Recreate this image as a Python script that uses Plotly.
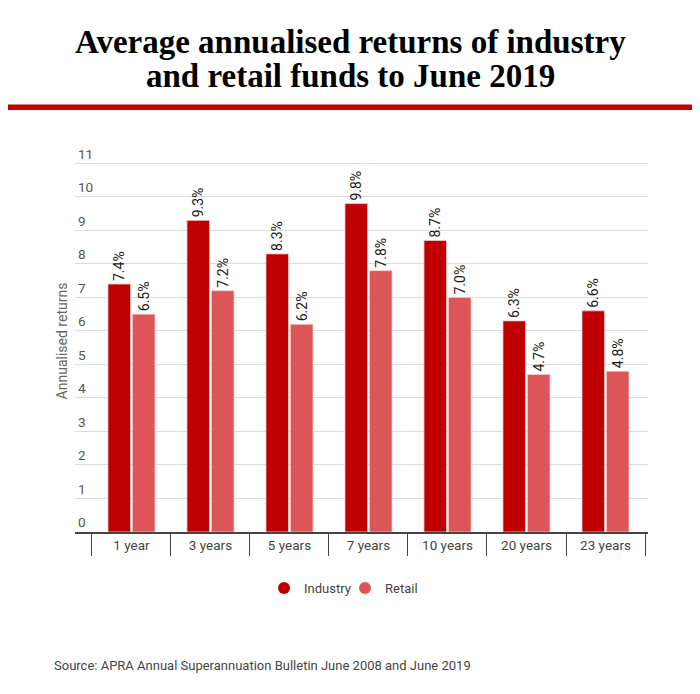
import plotly.graph_objects as go

categories = ["1 year", "3 years", "5 years", "7 years", "10 years", "20 years", "23 years"]
industry = [7.4, 9.3, 8.3, 9.8, 8.7, 6.3, 6.6]
retail = [6.5, 7.2, 6.2, 7.8, 7.0, 4.7, 4.8]
y_ticks = list(range(0, 12))

IND_COLOR = "#c00000"
RET_COLOR = "#dc5558"
FONT = "Roboto"

xr = [-0.715, 6.538]

# page body has an 8px margin: the figure is drawn 8px in from the window edge
OFF = 8
W, H = 700 - OFF, 694 - OFF
# plot area in window pixels
L, R, T, B = 75, 648, 150, 532
PW, PH = R - L, B - T


def px(x):
    return (x - L) / PW


def py(y):
    return (B - y) / PH


fig = go.Figure()
for nm, vals, col in [("Industry", industry, IND_COLOR), ("Retail", retail, RET_COLOR)]:
    fig.add_trace(go.Bar(
        x=categories, y=vals, name=nm,
        marker=dict(color=col, line=dict(color="#f4c9c9", width=0.8)),
        text=[f"{v:.1f}%" for v in vals], textposition="outside", textangle=-90,
        constraintext="none",
        textfont=dict(family=FONT, size=14, color="#1a1a1a"), cliponaxis=False, showlegend=False,
    ))
# legend entries (circles)
for nm, col in [("Industry", IND_COLOR), ("Retail", RET_COLOR)]:
    fig.add_trace(go.Scatter(x=[None], y=[None], mode="markers", name=nm,
                             marker=dict(color=col, size=16, symbol="circle"), xaxis="x2"))

fig.update_layout(
    width=W, height=H,
    paper_bgcolor="white", plot_bgcolor="white",
    margin=dict(l=L - OFF, r=700 - R, t=T - OFF, b=694 - B),
    barmode="group", bargap=0.38, bargroupgap=0.08,
    font=dict(family=FONT, color="#444"),
    xaxis=dict(type="category", categoryorder="array", categoryarray=categories, range=xr,
               showgrid=False, ticks="", showline=True, linecolor="#444", linewidth=2,
               tickfont=dict(family=FONT, size=13.5, color="#444"), fixedrange=True),
    xaxis2=dict(overlaying="x", side="bottom", range=xr, tickmode="array",
                tickvals=[i - 0.5 for i in range(len(categories) + 1)], ticks="outside",
                ticklen=23, tickcolor="#444", tickwidth=1, showticklabels=False,
                showgrid=False, zeroline=False, showline=False, anchor="y"),
    yaxis=dict(range=[0, 11.4], tickmode="array", tickvals=y_ticks,
               ticklabelposition="inside top", ticklabeloverflow="allow",
               showgrid=True, gridcolor="#dcdcdc", gridwidth=1, zeroline=False,
               tickfont=dict(family=FONT, size=13.5, color="#555"),
               title=dict(text="Annualised returns", font=dict(family=FONT, size=14, color="#666"), standoff=7)),
    legend=dict(orientation="h", x=px(345), y=py(588),
                xanchor="center", yanchor="middle", font=dict(family=FONT, size=13, color="#444"),
                itemsizing="constant", entrywidth=36, entrywidthmode="pixels"),
    shapes=[dict(type="rect", xref="paper", yref="paper", x0=-0.2, x1=1.2,
                 y0=py(110), y1=py(104.5),
                 fillcolor="#c00000", line=dict(width=0))],
    annotations=[
        dict(text="<b>Average annualised returns of industry</b>",
             xref="paper", yref="paper", x=px(350), y=py(41.5), xanchor="center", yanchor="middle",
             showarrow=False, font=dict(family="Liberation Serif", size=33, color="#000")),
        dict(text="<b>and retail funds to June 2019</b>",
             xref="paper", yref="paper", x=px(350), y=py(76), xanchor="center", yanchor="middle",
             showarrow=False, font=dict(family="Liberation Serif", size=33, color="#000")),
        dict(text="Source: APRA Annual Superannuation Bulletin June 2008 and June 2019",
             xref="paper", yref="paper", x=px(52), y=py(665), xanchor="left", yanchor="middle",
             showarrow=False, font=dict(family=FONT, size=13, color="#444")),
    ],
)

fig.write_html("out.html")
